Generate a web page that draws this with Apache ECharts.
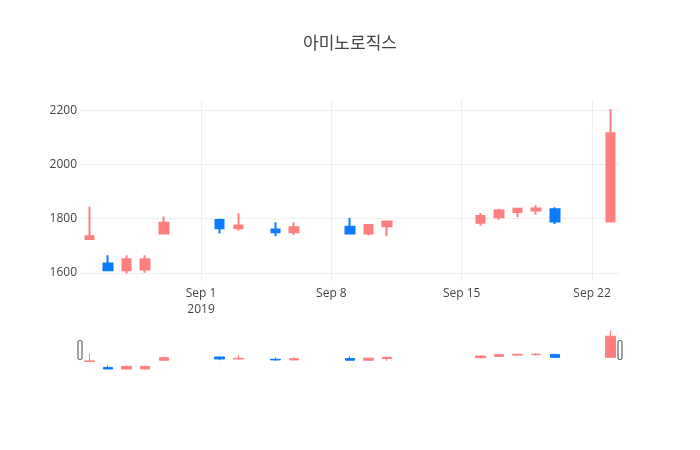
<!DOCTYPE html>
<html><head><meta charset="utf-8">
<script src="https://cdn.jsdelivr.net/npm/echarts@6/dist/echarts.min.js"></script>
<style>html,body{margin:0;padding:0;background:#fff}#c{width:700px;height:450px}</style>
</head><body><div id="c"></div>
<script>
const title = '아미노로직스';
const dates = ['2019-08-26','2019-08-27','2019-08-28','2019-08-29','2019-08-30',
  '2019-09-02','2019-09-03','2019-09-05','2019-09-06',
  '2019-09-09','2019-09-10','2019-09-11',
  '2019-09-16','2019-09-17','2019-09-18','2019-09-19','2019-09-20','2019-09-23'];
const opens  = [1725,1635,1610,1612,1745, 1795,1765,1760,1750, 1770,1745,1772, 1785,1805,1825,1830,1835,1790];
const closes = [1735,1610,1650,1650,1785, 1765,1775,1750,1768, 1745,1777,1790, 1810,1830,1837,1838,1790,2115];
const lows   = [1725,1610,1598,1600,1745, 1745,1755,1735,1740, 1745,1738,1735, 1775,1795,1805,1815,1780,1790];
const highs  = [1845,1665,1665,1665,1808, 1800,1820,1787,1787, 1803,1780,1790, 1821,1837,1840,1850,1842,2205];
const yTicks = [1600,1800,2000,2200];
const xTickDates = ['2019-09-01','2019-09-08','2019-09-15','2019-09-22'];
const xTickLabels = ['Sep 1\n2019','Sep 8','Sep 15','Sep 22'];

const DAY = 86400000;
const origin = Date.UTC(2019,8,1);
function dayNum(s){ const p = s.split('-').map(Number); return Math.round((Date.UTC(p[0],p[1]-1,p[2]) - origin)/DAY); }
const xs = dates.map(dayNum);
const ohlc = xs.map((x,i)=>[x, opens[i], closes[i], lows[i], highs[i]]);
const xTickVals = xTickDates.map(dayNum);
const xMin = xs[0]-0.5, xMax = xs[xs.length-1]+0.5;
const labelMap = {};
xTickVals.forEach((v,i)=>{ labelMap[v] = xTickLabels[i]; });

const UP = '#ff7f7f', DOWN = '#0a7bff';
const FONT = '"Open Sans", "Noto Sans CJK KR", sans-serif';

const chart = echarts.init(document.getElementById('c'), null, {renderer:'canvas'});
chart.setOption({
  animation: false,
  backgroundColor: '#fff',
  textStyle: {fontFamily: FONT},
  title: {text: title, left: 'center', top: 31,
    textStyle: {fontFamily: FONT, fontSize: 17, fontWeight: 'normal', color: '#444'}},
  grid: [
    {left: 80, right: 80, top: 100, height: 181},
    {left: 80, right: 80, top: 330, height: 40}
  ],
  xAxis: [
    {type: 'value', gridIndex: 0, min: xMin, max: xMax,
      axisLine: {show: false}, axisTick: {show: false, customValues: xTickVals},
      axisLabel: {customValues: xTickVals, color: '#444', fontSize: 12, margin: 5, lineHeight: 16,
        fontFamily: FONT, formatter: v => labelMap[v] || ''},
      splitLine: {show: true, lineStyle: {color: '#eeeeee', width: 1}}},
    {type: 'value', gridIndex: 1, min: xMin, max: xMax,
      axisLine: {show: false}, axisTick: {show: false}, axisLabel: {show: false}, splitLine: {show: false}}
  ],
  yAxis: [
    {type: 'value', gridIndex: 0, min: 1570, max: 2238,
      axisLine: {show: false}, axisTick: {show: false, customValues: yTicks},
      axisLabel: {customValues: yTicks, color: '#444', fontSize: 12, margin: 3, fontFamily: FONT,
        formatter: v => String(v)},
      splitLine: {show: true, lineStyle: {color: '#eeeeee', width: 1}}},
    {type: 'value', gridIndex: 1, min: 1595, max: 2210,
      axisLine: {show: false}, axisTick: {show: false}, axisLabel: {show: false}, splitLine: {show: false}}
  ],
  series: [
    {type: 'candlestick', xAxisIndex: 0, yAxisIndex: 0, data: ohlc,
      encode: {x: 0, y: [1,2,3,4]}, barWidth: 9,
      itemStyle: {color: UP, color0: DOWN, borderColor: UP, borderColor0: DOWN, borderColorDoji: UP, borderWidth: 2}},
    {type: 'candlestick', xAxisIndex: 1, yAxisIndex: 1, data: ohlc,
      encode: {x: 0, y: [1,2,3,4]}, barWidth: 10, silent: true,
      itemStyle: {color: UP, color0: DOWN, borderColor: UP, borderColor0: DOWN, borderColorDoji: UP, borderWidth: 1}}
  ],
  graphic: [
    {type: 'rect', shape: {x: 78, y: 340.5, width: 4, height: 19, r: 1.5},
      style: {fill: '#fff', stroke: '#444', lineWidth: 1}},
    {type: 'rect', shape: {x: 618, y: 340.5, width: 4, height: 19, r: 1.5},
      style: {fill: '#fff', stroke: '#444', lineWidth: 1}}
  ]
});
</script></body></html>
